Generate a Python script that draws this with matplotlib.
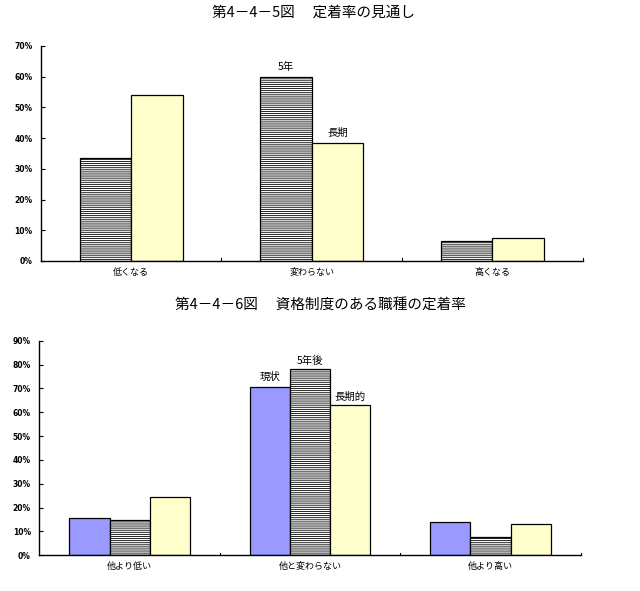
import matplotlib.pyplot as plt
import numpy as np

plt.rcParams['font.family'] = ['Noto Sans CJK JP', 'DejaVu Sans']
plt.rcParams['hatch.linewidth'] = 0.6

# ===========================
# データ
# ===========================
title1 = "第4－4－5図　 定着率の見通し"
cats1 = ["低くなる", "変わらない", "高くなる"]
five_year1 = [33.4, 59.8, 6.4]
long_term1 = [54.0, 38.3, 7.4]

title2 = "第4－4－6図　 資格制度のある職種の定着率"
cats2 = ["他より低い", "他と変わらない", "他より高い"]
current2 = [15.8, 70.7, 13.8]
five_year2 = [14.7, 78.0, 7.5]
long_term2 = [24.3, 62.9, 13.0]

BLUE = "#9999ff"
YELLOW = "#ffffcc"
HATCH = "--------"

fig = plt.figure(figsize=(6.4, 5.91), dpi=100)


def style_axes(ax, ymax, cats):
    ax.set_xlim(0, len(cats))
    ax.set_ylim(0, ymax)
    ax.set_yticks(np.arange(0, ymax + 1, 10))
    ax.set_yticklabels([f"{int(v)}%" for v in np.arange(0, ymax + 1, 10)], fontsize=5.5,
                       fontweight='bold', family='DejaVu Sans')
    ax.set_xticks(np.arange(len(cats)) + 0.5)
    ax.set_xticklabels(cats, fontsize=6.5)
    ax.tick_params(axis='x', length=0, pad=5)
    ax.tick_params(axis='y', direction='in', length=3, width=0.8, pad=6)
    # カテゴリ境界の目盛り
    for b in range(1, len(cats) + 1):
        ax.plot([b, b], [0, ymax * 0.012], color='black', lw=0.8, clip_on=False)
    for s in ['top', 'right']:
        ax.spines[s].set_visible(False)
    for s in ['left', 'bottom']:
        ax.spines[s].set_linewidth(1.0)


# ===========================
# 上のグラフ
# ===========================
ax1 = fig.add_axes([0.0636, 0.5584, 0.847, 0.3638])
x = np.arange(len(cats1)) + 0.5
w = 0.285
ax1.bar(x - w / 2, five_year1, w, color='white', edgecolor='black', hatch=HATCH, lw=0.9)
ax1.bar(x + w / 2, long_term1, w, color=YELLOW, edgecolor='black', lw=0.9)
style_axes(ax1, 70, cats1)
ax1.text(x[1] - w / 2, five_year1[1] + 1.8, "5年", ha='center', va='bottom', fontsize=7.5)
ax1.text(x[1] + w / 2, long_term1[1] + 1.8, "長期", ha='center', va='bottom', fontsize=7.5)
fig.text(0.49, 0.979, title1, ha='center', va='center', fontsize=10.5)

# ===========================
# 下のグラフ
# ===========================
ax2 = fig.add_axes([0.0614, 0.0604, 0.846, 0.363])
x = np.arange(len(cats2)) + 0.5
w = 0.222
ax2.bar(x - w, current2, w, color=BLUE, edgecolor='black', lw=0.9)
ax2.bar(x, five_year2, w, color='white', edgecolor='black', hatch=HATCH, lw=0.9)
ax2.bar(x + w, long_term2, w, color=YELLOW, edgecolor='black', lw=0.9)
style_axes(ax2, 90, cats2)
ax2.text(x[1] - w, current2[1] + 2.0, "現状", ha='center', va='bottom', fontsize=7.5)
ax2.text(x[1], five_year2[1] + 1.5, "5年後", ha='center', va='bottom', fontsize=7.5)
ax2.text(x[1] + w, long_term2[1] + 1.5, "長期的", ha='center', va='bottom', fontsize=7.5)
fig.text(0.5, 0.484, title2, ha='center', va='center', fontsize=10.5)

fig.savefig("out.png", dpi=100)
